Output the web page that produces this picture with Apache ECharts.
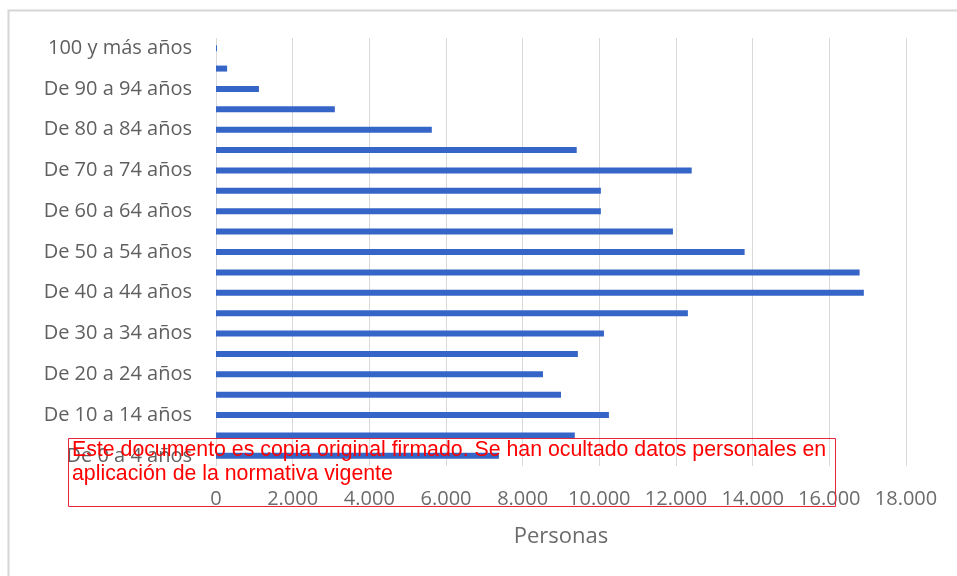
<!DOCTYPE html>
<html><head><meta charset="utf-8">
<script src="https://cdn.jsdelivr.net/npm/echarts@6/dist/echarts.min.js"></script>
<style>html,body{margin:0;padding:0;background:#fff}#c{width:957px;height:576px}</style>
</head><body><div id="c"></div>
<script>
const categories = ["De 0 a 4 años","De 5 a 9 años","De 10 a 14 años","De 15 a 19 años","De 20 a 24 años","De 25 a 29 años","De 30 a 34 años","De 35 a 39 años","De 40 a 44 años","De 45 a 49 años","De 50 a 54 años","De 55 a 59 años","De 60 a 64 años","De 65 a 69 años","De 70 a 74 años","De 75 a 79 años","De 80 a 84 años","De 85 a 89 años","De 90 a 94 años","De 95 a 99 años","100 y más años"];
const personas = [7380,9360,10250,9000,8530,9440,10120,12310,16900,16790,13790,11920,10040,10040,12410,9410,5630,3100,1120,290,25];
const xMin = 0, xMax = 18000, xStep = 2000;
const axisName = "Personas";
const noticeLines = ["Este documento es copia original firmado. Se han ocultado datos personales en","aplicación de la normativa vigente"];

const chart = echarts.init(document.getElementById('c'));
const fmt = v => String(v).replace(/\B(?=(\d{3})+(?!\d))/g, '.');
chart.setOption({
  animation:false,
  grid:{left:216,right:51,top:38,bottom:110,containLabel:false},
  xAxis:{type:'value',min:xMin,max:xMax,interval:xStep,
    name:axisName,nameLocation:'middle',nameGap:60,
    nameTextStyle:{fontFamily:'Open Sans',fontSize:22,color:'#6b6b6b'},
    axisLine:{show:false},axisTick:{show:false},
    axisLabel:{fontFamily:'Open Sans',fontSize:20,color:'#6b6b6b',margin:23,formatter:fmt},
    splitLine:{show:true,lineStyle:{color:'#d9d9d9',width:1}}},
  yAxis:{type:'category',data:categories,
    axisLine:{show:false},axisTick:{show:false},
    axisLabel:{interval:1,fontFamily:'Open Sans',fontSize:20,color:'#5f5f5f',margin:24}},
  series:[{type:'bar',data:personas,barWidth:6,itemStyle:{color:'#3565c6'}}],
  graphic:[
    {type:'rect',shape:{x:8.5,y:10.5,width:960,height:580},style:{fill:'none',stroke:'#d6d6d6',lineWidth:2},silent:true},
    {type:'rect',z:100,shape:{x:68.5,y:438.5,width:767,height:68},style:{fill:'none',stroke:'#e8263a',lineWidth:1}},
    {type:'text',z:101,left:72,top:440,style:{text:noticeLines[0],fontFamily:'Liberation Sans',fontSize:21.3,fill:'#ff0000'}},
    {type:'text',z:101,left:72,top:464,style:{text:noticeLines[1],fontFamily:'Liberation Sans',fontSize:21.3,fill:'#ff0000'}}
  ]
});
</script></body></html>
